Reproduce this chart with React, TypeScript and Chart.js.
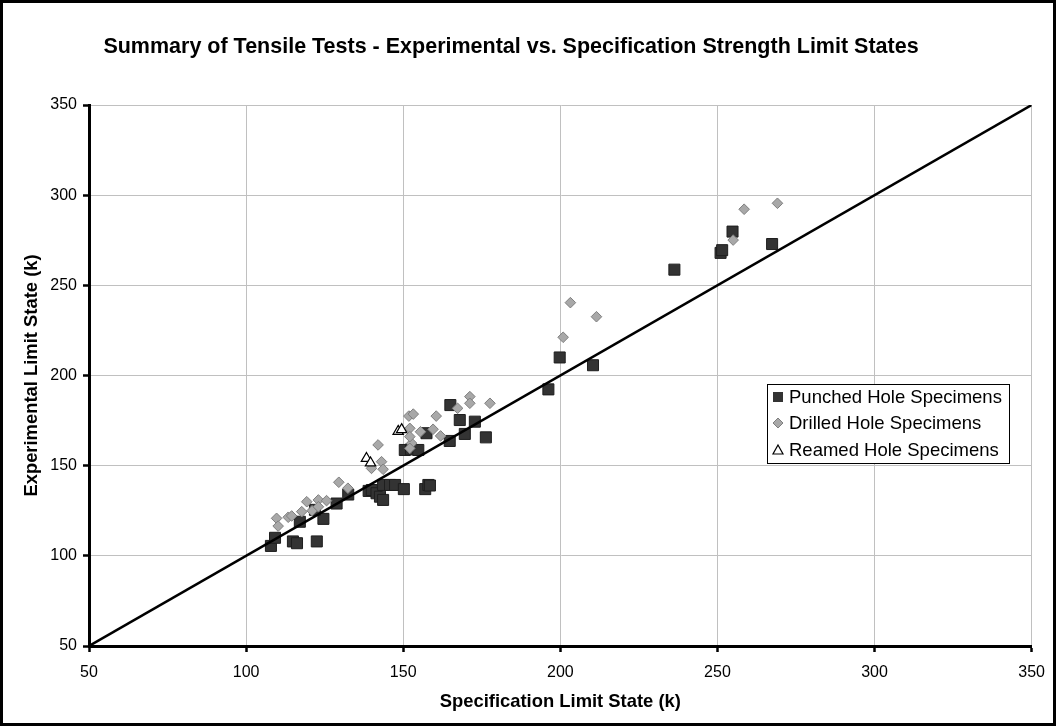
import React, { useEffect, useRef } from "react";
import { Chart, registerables } from "chart.js";

Chart.register(...registerables);

const TITLE = "Summary of Tensile Tests - Experimental vs. Specification Strength Limit States";
const X_TITLE = "Specification Limit State (k)";
const Y_TITLE = "Experimental Limit State (k)";
const AXIS_MIN = 50;
const AXIS_MAX = 350;
const AXIS_STEP = 50;

const punchedX = [107.9, 109.2, 114.9, 116.2, 117.1, 122.5, 124.6, 121.9, 128.8, 132.5, 139, 140, 141.5, 142.6, 143.6, 143.6, 145.8, 147.4, 150.2, 150.5, 152.5, 154.8, 157.4, 157, 158, 158.5, 164.8, 165, 168, 169.6, 172.8, 176.3, 196.2, 199.8, 210.4, 236.3, 251, 251.5, 254.8, 267.4];
const punchedY = [105.5, 110, 108, 107, 118.9, 108, 120.5, 125.5, 129, 134, 136, 136.5, 134.7, 132.8, 131, 139.3, 139.3, 139.3, 137, 158.7, 159, 158.7, 168, 137, 139.3, 139, 163.7, 183.6, 175.3, 167.6, 174.4, 165.7, 192.3, 210, 205.7, 258.7, 268, 269.5, 279.8, 272.9];

const drilledX = [109.7, 110.2, 113.4, 114.5, 117.7, 119.3, 121, 123, 123, 125.6, 129.5, 132.4, 139.9, 142, 143.1, 143.6, 151.8, 153.2, 152.1, 152.7, 152.1, 152.1, 155.5, 159.5, 160.5, 161.9, 167.3, 171.2, 171.2, 177.6, 200.9, 203.2, 211.5, 255, 258.5, 269.1];
const drilledY = [120.8, 116.5, 121.4, 122.1, 124.5, 130, 125, 131, 127.2, 130.6, 140.8, 137.5, 148.5, 161.5, 152.2, 148, 177.5, 178.6, 170.7, 162.4, 166.1, 159.6, 168.8, 170.2, 177.5, 166.5, 181.8, 188.3, 184.6, 184.6, 221.2, 240.4, 232.6, 275.1, 292.2, 295.5];

const reamedX = [138.3, 139.6, 148.4, 149.5];
const reamedY = [154, 151.5, 169, 170];

const lineX = [50, 350];
const lineY = [50, 350];

const SERIES_NAMES = ["Punched Hole Specimens", "Drilled Hole Specimens", "Reamed Hole Specimens"];

const zip = (xs: number[], ys: number[]) => xs.map((x, i) => ({ x, y: ys[i] }));

const FONT = '"Liberation Sans", Arial, sans-serif';

const PUNCH_FILL = "#333333";
const PUNCH_BORDER = "#1e1e1e";
const DRILL_FILL = "#a8a8a8";
const DRILL_BORDER = "#7f7f7f";

export default function App() {
  const ref = useRef<HTMLCanvasElement | null>(null);

  useEffect(() => {
    const canvas = ref.current;
    if (!canvas) return;

    const decor = {
      id: "decor",
      beforeDraw(chart: any) {
        const ctx = chart.ctx;
        ctx.save();
        ctx.fillStyle = "#fff";
        ctx.fillRect(0, 0, chart.width, chart.height);
        ctx.restore();
      },
      afterDraw(chart: any) {
        const ctx = chart.ctx;
        const ca = chart.chartArea;
        ctx.save();
        // outer border
        ctx.strokeStyle = "#000";
        ctx.lineWidth = 3;
        ctx.strokeRect(1.5, 1.5, chart.width - 3, chart.height - 3);

        // title
        ctx.fillStyle = "#000";
        ctx.textAlign = "center";
        ctx.textBaseline = "middle";
        ctx.font = `bold 21.5px ${FONT}`;
        ctx.fillText(TITLE, 511, 47);

        // x title
        ctx.font = `bold 18.4px ${FONT}`;
        ctx.fillText(X_TITLE, (ca.left + ca.right) / 2, 702);

        // y title
        ctx.save();
        ctx.translate(32, (ca.top + ca.bottom) / 2);
        ctx.rotate(-Math.PI / 2);
        ctx.fillText(Y_TITLE, 0, 0);
        ctx.restore();

        // legend
        const lx = 767, ly = 384, lw = 242, lh = 79;
        ctx.fillStyle = "#fff";
        ctx.fillRect(lx, ly, lw, lh);
        ctx.strokeStyle = "#000";
        ctx.lineWidth = 1;
        ctx.strokeRect(lx + 0.5, ly + 0.5, lw, lh);
        const rows = [397, 423, 450];
        const mx = 778;
        ctx.font = `18.5px ${FONT}`;
        ctx.textAlign = "left";
        ctx.textBaseline = "middle";
        // square
        ctx.fillStyle = PUNCH_FILL;
        ctx.fillRect(mx - 5, rows[0] - 5, 10, 10);
        // diamond
        ctx.beginPath();
        ctx.moveTo(mx, rows[1] - 5);
        ctx.lineTo(mx + 5, rows[1]);
        ctx.lineTo(mx, rows[1] + 5);
        ctx.lineTo(mx - 5, rows[1]);
        ctx.closePath();
        ctx.fillStyle = DRILL_FILL;
        ctx.fill();
        ctx.strokeStyle = DRILL_BORDER;
        ctx.stroke();
        // triangle
        ctx.beginPath();
        ctx.moveTo(mx, rows[2] - 5);
        ctx.lineTo(mx + 5, rows[2] + 4);
        ctx.lineTo(mx - 5, rows[2] + 4);
        ctx.closePath();
        ctx.fillStyle = "#fff";
        ctx.fill();
        ctx.strokeStyle = "#000";
        ctx.lineWidth = 1.2;
        ctx.stroke();
        ctx.fillStyle = "#000";
        SERIES_NAMES.forEach((n, i) => ctx.fillText(n, 789, rows[i] + 1));
        ctx.restore();
      },
    };

    const chart = new Chart(canvas, {
      type: "scatter",
      data: {
        datasets: [
          {
            label: "Line of Equality",
            data: zip(lineX, lineY),
            showLine: true,
            borderColor: "#000",
            borderWidth: 2.5,
            pointRadius: 0,
            order: 1,
          },
          {
            label: SERIES_NAMES[2],
            data: zip(reamedX, reamedY),
            pointStyle: "triangle",
            pointRadius: 6,
            backgroundColor: "#fff",
            borderColor: "#000",
            borderWidth: 1.2,
            order: 2,
          },
          {
            label: SERIES_NAMES[1],
            data: zip(drilledX, drilledY),
            pointStyle: "rectRot",
            pointRadius: 5.3,
            backgroundColor: DRILL_FILL,
            borderColor: DRILL_BORDER,
            borderWidth: 1,
            order: 3,
          },
          {
            label: SERIES_NAMES[0],
            data: zip(punchedX, punchedY),
            pointStyle: "rect",
            pointRadius: 7.8,
            backgroundColor: PUNCH_FILL,
            borderColor: PUNCH_BORDER,
            borderWidth: 1,
            order: 4,
          },
        ],
      },
      options: {
        responsive: false,
        animation: false,
        events: [],
        layout: { padding: { top: 105, right: 24, bottom: 0, left: 0 } },
        plugins: {
          legend: { display: false },
          title: { display: false },
          tooltip: { enabled: false },
        },
        scales: {
          x: {
            type: "linear",
            min: AXIS_MIN,
            max: AXIS_MAX,
            afterFit: (s: any) => {
              s.height = 80;
            },
            ticks: {
              stepSize: AXIS_STEP,
              color: "#000",
              font: { family: FONT, size: 16 },
              padding: 11,
            },
            grid: {
              color: "#c0c0c0",
              lineWidth: 1,
              tickColor: "#000",
              tickWidth: 2.5,
              tickLength: 6,
            },
            border: { color: "#000", width: 3 },
          },
          y: {
            type: "linear",
            min: AXIS_MIN,
            max: AXIS_MAX,
            afterFit: (s: any) => {
              s.width = 89;
            },
            ticks: {
              stepSize: AXIS_STEP,
              color: "#000",
              font: { family: FONT, size: 16 },
              padding: 6,
            },
            grid: {
              color: "#c0c0c0",
              lineWidth: 1,
              tickColor: "#000",
              tickWidth: 2.5,
              tickLength: 6,
            },
            border: { color: "#000", width: 3 },
          },
        },
      },
      plugins: [decor],
    } as any);

    return () => chart.destroy();
  }, []);

  return (
    <div style={{ position: "absolute", left: 0, top: 0, width: 1056, height: 726 }}>
      <canvas ref={ref} width={1056} height={726} />
    </div>
  );
}
